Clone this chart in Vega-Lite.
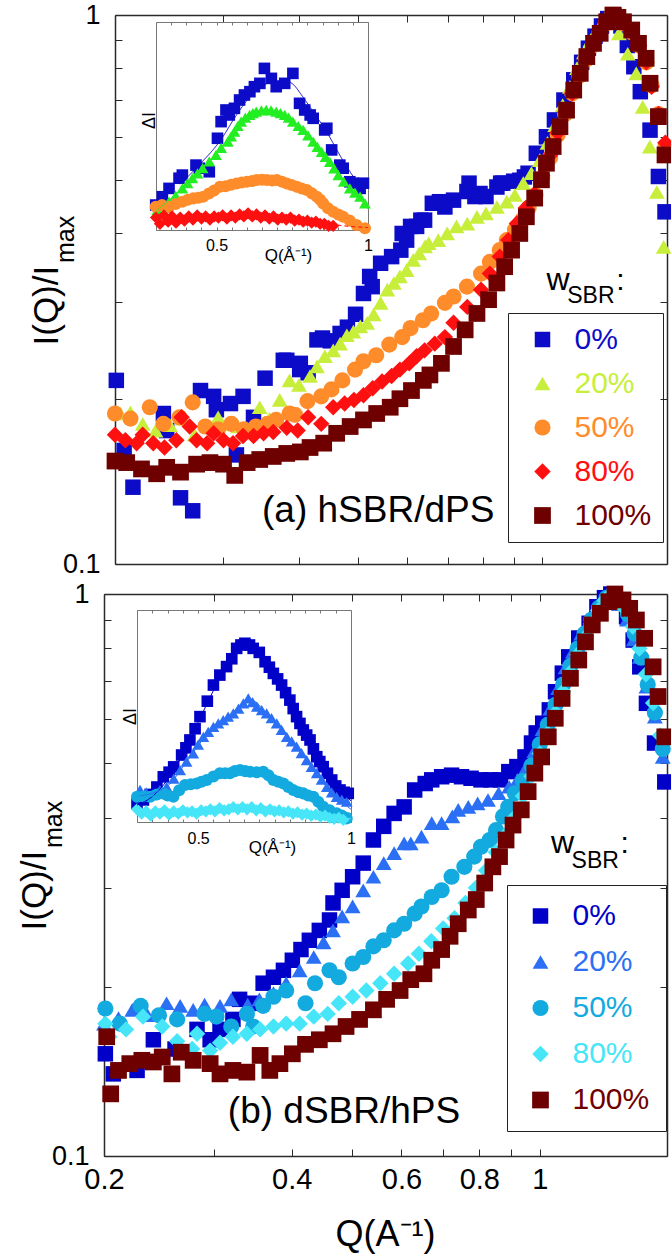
{
"$schema":"https://vega.github.io/schema/vega-lite/v6.json",
"width":671,"height":1258,"autosize":{"type":"none"},"padding":0,
"config":{"view":{"stroke":null},"font":"Liberation Sans",
 "axis":{"grid":false,"domainColor":"#2a2a2a","domainWidth":1.5,"tickColor":"#2a2a2a","tickWidth":1,"tickSize":-7,"labelFlush":false,"labelOverlap":false,"labelBound":false,"labelFont":"Liberation Sans","titleFont":"Liberation Sans","titleFontWeight":"normal","labelColor":"#000","titleColor":"#000"},
 "text":{"font":"Liberation Sans","color":"#000"}},
"datasets":{
"mainA":[
{"w":"0%","Q":0.201,"I":0.216},{"w":"0%","Q":0.207,"I":0.161},{"w":"0%","Q":0.214,"I":0.138},{"w":"0%","Q":0.240,"I":0.188},{"w":"0%","Q":0.243,"I":0.175},{"w":"0%","Q":0.256,"I":0.132},{"w":"0%","Q":0.268,"I":0.125},{"w":"0%","Q":0.276,"I":0.207},{"w":"0%","Q":0.290,"I":0.202},{"w":"0%","Q":0.293,"I":0.191},{"w":"0%","Q":0.309,"I":0.196},{"w":"0%","Q":0.316,"I":0.158},{"w":"0%","Q":0.324,"I":0.202},{"w":"0%","Q":0.337,"I":0.185},{"w":"0%","Q":0.352,"I":0.218},{"w":"0%","Q":0.377,"I":0.235},{"w":"0%","Q":0.382,"I":0.235},{"w":"0%","Q":0.401,"I":0.226},{"w":"0%","Q":0.402,"I":0.232},{"w":"0%","Q":0.414,"I":0.223},{"w":"0%","Q":0.428,"I":0.256},{"w":"0%","Q":0.437,"I":0.258},{"w":"0%","Q":0.450,"I":0.255},{"w":"0%","Q":0.467,"I":0.263},{"w":"0%","Q":0.480,"I":0.270},{"w":"0%","Q":0.495,"I":0.285},{"w":"0%","Q":0.510,"I":0.311},{"w":"0%","Q":0.522,"I":0.334},{"w":"0%","Q":0.527,"I":0.320},{"w":"0%","Q":0.544,"I":0.353},{"w":"0%","Q":0.567,"I":0.363},{"w":"0%","Q":0.587,"I":0.373},{"w":"0%","Q":0.590,"I":0.400},{"w":"0%","Q":0.600,"I":0.389},{"w":"0%","Q":0.609,"I":0.412},{"w":"0%","Q":0.623,"I":0.412},{"w":"0%","Q":0.633,"I":0.423},{"w":"0%","Q":0.642,"I":0.423},{"w":"0%","Q":0.661,"I":0.454},{"w":"0%","Q":0.679,"I":0.457},{"w":"0%","Q":0.693,"I":0.447},{"w":"0%","Q":0.716,"I":0.460},{"w":"0%","Q":0.753,"I":0.477},{"w":"0%","Q":0.759,"I":0.494},{"w":"0%","Q":0.776,"I":0.467},{"w":"0%","Q":0.791,"I":0.473},{"w":"0%","Q":0.809,"I":0.467},{"w":"0%","Q":0.843,"I":0.486},{"w":"0%","Q":0.855,"I":0.494},{"w":"0%","Q":0.862,"I":0.494},{"w":"0%","Q":0.898,"I":0.498},{"w":"0%","Q":0.919,"I":0.500},{"w":"0%","Q":0.935,"I":0.507},{"w":"0%","Q":0.948,"I":0.515},{"w":"0%","Q":0.978,"I":0.560},{"w":"0%","Q":1.016,"I":0.600},{"w":"0%","Q":1.047,"I":0.644},{"w":"0%","Q":1.085,"I":0.700},{"w":"0%","Q":1.126,"I":0.762},{"w":"0%","Q":1.160,"I":0.820},{"w":"0%","Q":1.190,"I":0.870},{"w":"0%","Q":1.220,"I":0.915},{"w":"0%","Q":1.250,"I":0.955},{"w":"0%","Q":1.280,"I":0.985},{"w":"0%","Q":1.310,"I":1.000},{"w":"0%","Q":1.345,"I":0.955},{"w":"0%","Q":1.378,"I":0.880},{"w":"0%","Q":1.412,"I":0.805},{"w":"0%","Q":1.447,"I":0.725},{"w":"0%","Q":1.501,"I":0.617},{"w":"0%","Q":1.549,"I":0.508},{"w":"0%","Q":1.588,"I":0.438},
{"w":"20%","Q":0.204,"I":0.188},{"w":"20%","Q":0.212,"I":0.189},{"w":"20%","Q":0.222,"I":0.180},{"w":"20%","Q":0.233,"I":0.175},{"w":"20%","Q":0.246,"I":0.179},{"w":"20%","Q":0.258,"I":0.184},{"w":"20%","Q":0.270,"I":0.172},{"w":"20%","Q":0.283,"I":0.178},{"w":"20%","Q":0.295,"I":0.185},{"w":"20%","Q":0.305,"I":0.180},{"w":"20%","Q":0.318,"I":0.178},{"w":"20%","Q":0.332,"I":0.175},{"w":"20%","Q":0.345,"I":0.193},{"w":"20%","Q":0.358,"I":0.184},{"w":"20%","Q":0.372,"I":0.199},{"w":"20%","Q":0.386,"I":0.216},{"w":"20%","Q":0.400,"I":0.212},{"w":"20%","Q":0.417,"I":0.220},{"w":"20%","Q":0.428,"I":0.229},{"w":"20%","Q":0.441,"I":0.239},{"w":"20%","Q":0.455,"I":0.245},{"w":"20%","Q":0.467,"I":0.252},{"w":"20%","Q":0.479,"I":0.261},{"w":"20%","Q":0.491,"I":0.265},{"w":"20%","Q":0.504,"I":0.271},{"w":"20%","Q":0.517,"I":0.275},{"w":"20%","Q":0.530,"I":0.285},{"w":"20%","Q":0.544,"I":0.299},{"w":"20%","Q":0.558,"I":0.316},{"w":"20%","Q":0.572,"I":0.325},{"w":"20%","Q":0.585,"I":0.334},{"w":"20%","Q":0.600,"I":0.343},{"w":"20%","Q":0.615,"I":0.358},{"w":"20%","Q":0.629,"I":0.368},{"w":"20%","Q":0.643,"I":0.379},{"w":"20%","Q":0.652,"I":0.384},{"w":"20%","Q":0.676,"I":0.389},{"w":"20%","Q":0.699,"I":0.400},{"w":"20%","Q":0.724,"I":0.412},{"w":"20%","Q":0.754,"I":0.417},{"w":"20%","Q":0.782,"I":0.429},{"w":"20%","Q":0.809,"I":0.435},{"w":"20%","Q":0.843,"I":0.447},{"w":"20%","Q":0.875,"I":0.457},{"w":"20%","Q":0.902,"I":0.470},{"w":"20%","Q":0.931,"I":0.494},{"w":"20%","Q":0.960,"I":0.515},{"w":"20%","Q":0.991,"I":0.544},{"w":"20%","Q":1.020,"I":0.585},{"w":"20%","Q":1.050,"I":0.630},{"w":"20%","Q":1.080,"I":0.685},{"w":"20%","Q":1.110,"I":0.740},{"w":"20%","Q":1.140,"I":0.800},{"w":"20%","Q":1.170,"I":0.855},{"w":"20%","Q":1.200,"I":0.900},{"w":"20%","Q":1.235,"I":0.940},{"w":"20%","Q":1.270,"I":0.965},{"w":"20%","Q":1.300,"I":0.975},{"w":"20%","Q":1.335,"I":0.926},{"w":"20%","Q":1.380,"I":0.850},{"w":"20%","Q":1.425,"I":0.783},{"w":"20%","Q":1.460,"I":0.680},{"w":"20%","Q":1.500,"I":0.576},{"w":"20%","Q":1.540,"I":0.476},{"w":"20%","Q":1.580,"I":0.378},
{"w":"50%","Q":0.200,"I":0.188},{"w":"50%","Q":0.212,"I":0.184},{"w":"50%","Q":0.228,"I":0.193},{"w":"50%","Q":0.240,"I":0.180},{"w":"50%","Q":0.255,"I":0.185},{"w":"50%","Q":0.268,"I":0.197},{"w":"50%","Q":0.281,"I":0.178},{"w":"50%","Q":0.295,"I":0.176},{"w":"50%","Q":0.310,"I":0.180},{"w":"50%","Q":0.325,"I":0.176},{"w":"50%","Q":0.340,"I":0.178},{"w":"50%","Q":0.355,"I":0.180},{"w":"50%","Q":0.367,"I":0.183},{"w":"50%","Q":0.386,"I":0.188},{"w":"50%","Q":0.394,"I":0.187},{"w":"50%","Q":0.413,"I":0.198},{"w":"50%","Q":0.435,"I":0.202},{"w":"50%","Q":0.452,"I":0.208},{"w":"50%","Q":0.471,"I":0.216},{"w":"50%","Q":0.494,"I":0.226},{"w":"50%","Q":0.510,"I":0.234},{"w":"50%","Q":0.535,"I":0.240},{"w":"50%","Q":0.562,"I":0.251},{"w":"50%","Q":0.590,"I":0.259},{"w":"50%","Q":0.609,"I":0.269},{"w":"50%","Q":0.638,"I":0.278},{"w":"50%","Q":0.658,"I":0.286},{"w":"50%","Q":0.693,"I":0.299},{"w":"50%","Q":0.716,"I":0.307},{"w":"50%","Q":0.753,"I":0.320},{"w":"50%","Q":0.794,"I":0.338},{"w":"50%","Q":0.821,"I":0.355},{"w":"50%","Q":0.852,"I":0.373},{"w":"50%","Q":0.875,"I":0.389},{"w":"50%","Q":0.902,"I":0.406},{"w":"50%","Q":0.927,"I":0.423},{"w":"50%","Q":0.950,"I":0.445},{"w":"50%","Q":0.975,"I":0.470},{"w":"50%","Q":1.000,"I":0.505},{"w":"50%","Q":1.030,"I":0.550},{"w":"50%","Q":1.060,"I":0.605},{"w":"50%","Q":1.090,"I":0.660},{"w":"50%","Q":1.120,"I":0.720},{"w":"50%","Q":1.150,"I":0.775},{"w":"50%","Q":1.180,"I":0.830},{"w":"50%","Q":1.210,"I":0.880},{"w":"50%","Q":1.240,"I":0.925},{"w":"50%","Q":1.270,"I":0.965},{"w":"50%","Q":1.300,"I":1.000},{"w":"50%","Q":1.330,"I":0.985},{"w":"50%","Q":1.360,"I":0.965},{"w":"50%","Q":1.400,"I":0.930},{"w":"50%","Q":1.440,"I":0.880},{"w":"50%","Q":1.480,"I":0.820},{"w":"50%","Q":1.510,"I":0.745},{"w":"50%","Q":1.550,"I":0.660},{"w":"50%","Q":1.590,"I":0.575},
{"w":"80%","Q":0.200,"I":0.172},{"w":"80%","Q":0.208,"I":0.168},{"w":"80%","Q":0.217,"I":0.166},{"w":"80%","Q":0.222,"I":0.172},{"w":"80%","Q":0.231,"I":0.166},{"w":"80%","Q":0.241,"I":0.163},{"w":"80%","Q":0.252,"I":0.168},{"w":"80%","Q":0.257,"I":0.185},{"w":"80%","Q":0.265,"I":0.178},{"w":"80%","Q":0.272,"I":0.168},{"w":"80%","Q":0.283,"I":0.166},{"w":"80%","Q":0.290,"I":0.173},{"w":"80%","Q":0.301,"I":0.168},{"w":"80%","Q":0.312,"I":0.166},{"w":"80%","Q":0.324,"I":0.171},{"w":"80%","Q":0.337,"I":0.171},{"w":"80%","Q":0.350,"I":0.173},{"w":"80%","Q":0.363,"I":0.174},{"w":"80%","Q":0.382,"I":0.177},{"w":"80%","Q":0.398,"I":0.175},{"w":"80%","Q":0.414,"I":0.185},{"w":"80%","Q":0.435,"I":0.180},{"w":"80%","Q":0.455,"I":0.193},{"w":"80%","Q":0.475,"I":0.196},{"w":"80%","Q":0.492,"I":0.199},{"w":"80%","Q":0.510,"I":0.203},{"w":"80%","Q":0.528,"I":0.209},{"w":"80%","Q":0.547,"I":0.215},{"w":"80%","Q":0.567,"I":0.220},{"w":"80%","Q":0.585,"I":0.226},{"w":"80%","Q":0.606,"I":0.232},{"w":"80%","Q":0.623,"I":0.239},{"w":"80%","Q":0.642,"I":0.245},{"w":"80%","Q":0.667,"I":0.252},{"w":"80%","Q":0.693,"I":0.259},{"w":"80%","Q":0.716,"I":0.275},{"w":"80%","Q":0.754,"I":0.294},{"w":"80%","Q":0.794,"I":0.316},{"w":"80%","Q":0.821,"I":0.338},{"w":"80%","Q":0.852,"I":0.363},{"w":"80%","Q":0.880,"I":0.389},{"w":"80%","Q":0.909,"I":0.417},{"w":"80%","Q":0.940,"I":0.445},{"w":"80%","Q":0.972,"I":0.472},{"w":"80%","Q":1.000,"I":0.510},{"w":"80%","Q":1.030,"I":0.555},{"w":"80%","Q":1.060,"I":0.610},{"w":"80%","Q":1.090,"I":0.665},{"w":"80%","Q":1.120,"I":0.720},{"w":"80%","Q":1.150,"I":0.780},{"w":"80%","Q":1.180,"I":0.835},{"w":"80%","Q":1.210,"I":0.885},{"w":"80%","Q":1.240,"I":0.930},{"w":"80%","Q":1.270,"I":0.970},{"w":"80%","Q":1.300,"I":1.000},{"w":"80%","Q":1.330,"I":0.985},{"w":"80%","Q":1.360,"I":0.965},{"w":"80%","Q":1.400,"I":0.930},{"w":"80%","Q":1.440,"I":0.880},{"w":"80%","Q":1.480,"I":0.820},{"w":"80%","Q":1.510,"I":0.740},{"w":"80%","Q":1.550,"I":0.660},{"w":"80%","Q":1.590,"I":0.585},
{"w":"100%","Q":0.200,"I":0.154},{"w":"100%","Q":0.209,"I":0.153},{"w":"100%","Q":0.221,"I":0.149},{"w":"100%","Q":0.234,"I":0.146},{"w":"100%","Q":0.243,"I":0.150},{"w":"100%","Q":0.256,"I":0.147},{"w":"100%","Q":0.272,"I":0.152},{"w":"100%","Q":0.286,"I":0.153},{"w":"100%","Q":0.301,"I":0.152},{"w":"100%","Q":0.314,"I":0.145},{"w":"100%","Q":0.329,"I":0.153},{"w":"100%","Q":0.345,"I":0.155},{"w":"100%","Q":0.363,"I":0.157},{"w":"100%","Q":0.382,"I":0.159},{"w":"100%","Q":0.402,"I":0.160},{"w":"100%","Q":0.417,"I":0.163},{"w":"100%","Q":0.439,"I":0.166},{"w":"100%","Q":0.461,"I":0.173},{"w":"100%","Q":0.485,"I":0.178},{"w":"100%","Q":0.510,"I":0.183},{"w":"100%","Q":0.536,"I":0.188},{"w":"100%","Q":0.564,"I":0.193},{"w":"100%","Q":0.585,"I":0.200},{"w":"100%","Q":0.611,"I":0.207},{"w":"100%","Q":0.639,"I":0.216},{"w":"100%","Q":0.655,"I":0.221},{"w":"100%","Q":0.684,"I":0.232},{"w":"100%","Q":0.716,"I":0.249},{"w":"100%","Q":0.748,"I":0.267},{"w":"100%","Q":0.782,"I":0.286},{"w":"100%","Q":0.817,"I":0.303},{"w":"100%","Q":0.843,"I":0.325},{"w":"100%","Q":0.868,"I":0.348},{"w":"100%","Q":0.891,"I":0.373},{"w":"100%","Q":0.919,"I":0.400},{"w":"100%","Q":0.942,"I":0.429},{"w":"100%","Q":0.972,"I":0.464},{"w":"100%","Q":0.997,"I":0.501},{"w":"100%","Q":1.016,"I":0.537},{"w":"100%","Q":1.042,"I":0.576},{"w":"100%","Q":1.069,"I":0.626},{"w":"100%","Q":1.096,"I":0.671},{"w":"100%","Q":1.126,"I":0.730},{"w":"100%","Q":1.154,"I":0.783},{"w":"100%","Q":1.183,"I":0.840},{"w":"100%","Q":1.213,"I":0.888},{"w":"100%","Q":1.244,"I":0.926},{"w":"100%","Q":1.275,"I":0.972},{"w":"100%","Q":1.305,"I":1.000},{"w":"100%","Q":1.330,"I":0.990},{"w":"100%","Q":1.358,"I":0.972},{"w":"100%","Q":1.401,"I":0.939},{"w":"100%","Q":1.437,"I":0.888},{"w":"100%","Q":1.479,"I":0.834},{"w":"100%","Q":1.501,"I":0.751},{"w":"100%","Q":1.549,"I":0.653},{"w":"100%","Q":1.588,"I":0.556}
],
"mainB":[
{"w":"0%","Q":0.201,"I":0.152},{"w":"0%","Q":0.207,"I":0.140},{"w":"0%","Q":0.226,"I":0.142},{"w":"0%","Q":0.240,"I":0.161},{"w":"0%","Q":0.260,"I":0.155},{"w":"0%","Q":0.282,"I":0.168},{"w":"0%","Q":0.296,"I":0.161},{"w":"0%","Q":0.307,"I":0.168},{"w":"0%","Q":0.322,"I":0.175},{"w":"0%","Q":0.330,"I":0.190},{"w":"0%","Q":0.347,"I":0.187},{"w":"0%","Q":0.360,"I":0.203},{"w":"0%","Q":0.374,"I":0.208},{"w":"0%","Q":0.388,"I":0.214},{"w":"0%","Q":0.401,"I":0.223},{"w":"0%","Q":0.414,"I":0.233},{"w":"0%","Q":0.427,"I":0.242},{"w":"0%","Q":0.443,"I":0.252},{"w":"0%","Q":0.460,"I":0.263},{"w":"0%","Q":0.466,"I":0.282},{"w":"0%","Q":0.482,"I":0.297},{"w":"0%","Q":0.501,"I":0.314},{"w":"0%","Q":0.521,"I":0.332},{"w":"0%","Q":0.541,"I":0.365},{"w":"0%","Q":0.562,"I":0.386},{"w":"0%","Q":0.584,"I":0.407},{"w":"0%","Q":0.606,"I":0.418},{"w":"0%","Q":0.630,"I":0.448},{"w":"0%","Q":0.655,"I":0.460},{"w":"0%","Q":0.671,"I":0.467},{"w":"0%","Q":0.696,"I":0.473},{"w":"0%","Q":0.722,"I":0.476},{"w":"0%","Q":0.749,"I":0.473},{"w":"0%","Q":0.776,"I":0.470},{"w":"0%","Q":0.805,"I":0.467},{"w":"0%","Q":0.835,"I":0.467},{"w":"0%","Q":0.865,"I":0.467},{"w":"0%","Q":0.892,"I":0.483},{"w":"0%","Q":0.919,"I":0.493},{"w":"0%","Q":0.947,"I":0.513},{"w":"0%","Q":0.970,"I":0.543},{"w":"0%","Q":0.987,"I":0.566},{"w":"0%","Q":1.011,"I":0.589},{"w":"0%","Q":1.036,"I":0.622},{"w":"0%","Q":1.060,"I":0.670},{"w":"0%","Q":1.087,"I":0.723},{"w":"0%","Q":1.113,"I":0.773},{"w":"0%","Q":1.155,"I":0.835},{"w":"0%","Q":1.200,"I":0.887},{"w":"0%","Q":1.235,"I":0.949},{"w":"0%","Q":1.270,"I":0.985},{"w":"0%","Q":1.300,"I":1.000},{"w":"0%","Q":1.340,"I":0.965},{"w":"0%","Q":1.378,"I":0.911},{"w":"0%","Q":1.412,"I":0.828},{"w":"0%","Q":1.447,"I":0.742},{"w":"0%","Q":1.483,"I":0.639},{"w":"0%","Q":1.528,"I":0.543},{"w":"0%","Q":1.587,"I":0.463},
{"w":"20%","Q":0.200,"I":0.172},{"w":"20%","Q":0.211,"I":0.176},{"w":"20%","Q":0.222,"I":0.182},{"w":"20%","Q":0.235,"I":0.178},{"w":"20%","Q":0.252,"I":0.187},{"w":"20%","Q":0.265,"I":0.185},{"w":"20%","Q":0.278,"I":0.182},{"w":"20%","Q":0.290,"I":0.186},{"w":"20%","Q":0.307,"I":0.185},{"w":"20%","Q":0.320,"I":0.190},{"w":"20%","Q":0.340,"I":0.186},{"w":"20%","Q":0.355,"I":0.190},{"w":"20%","Q":0.374,"I":0.195},{"w":"20%","Q":0.392,"I":0.203},{"w":"20%","Q":0.412,"I":0.214},{"w":"20%","Q":0.434,"I":0.226},{"w":"20%","Q":0.450,"I":0.240},{"w":"20%","Q":0.466,"I":0.252},{"w":"20%","Q":0.482,"I":0.267},{"w":"20%","Q":0.501,"I":0.278},{"w":"20%","Q":0.521,"I":0.297},{"w":"20%","Q":0.541,"I":0.314},{"w":"20%","Q":0.562,"I":0.332},{"w":"20%","Q":0.584,"I":0.346},{"w":"20%","Q":0.606,"I":0.360},{"w":"20%","Q":0.621,"I":0.360},{"w":"20%","Q":0.646,"I":0.370},{"w":"20%","Q":0.671,"I":0.391},{"w":"20%","Q":0.696,"I":0.391},{"w":"20%","Q":0.724,"I":0.402},{"w":"20%","Q":0.740,"I":0.413},{"w":"20%","Q":0.768,"I":0.418},{"w":"20%","Q":0.795,"I":0.424},{"w":"20%","Q":0.826,"I":0.430},{"w":"20%","Q":0.859,"I":0.442},{"w":"20%","Q":0.893,"I":0.454},{"w":"20%","Q":0.921,"I":0.467},{"w":"20%","Q":0.950,"I":0.490},{"w":"20%","Q":0.980,"I":0.525},{"w":"20%","Q":1.010,"I":0.575},{"w":"20%","Q":1.040,"I":0.625},{"w":"20%","Q":1.070,"I":0.680},{"w":"20%","Q":1.100,"I":0.740},{"w":"20%","Q":1.130,"I":0.790},{"w":"20%","Q":1.165,"I":0.850},{"w":"20%","Q":1.200,"I":0.895},{"w":"20%","Q":1.235,"I":0.945},{"w":"20%","Q":1.270,"I":0.980},{"w":"20%","Q":1.300,"I":0.995},{"w":"20%","Q":1.340,"I":0.960},{"w":"20%","Q":1.380,"I":0.900},{"w":"20%","Q":1.415,"I":0.830},{"w":"20%","Q":1.447,"I":0.773},{"w":"20%","Q":1.483,"I":0.684},{"w":"20%","Q":1.530,"I":0.605},{"w":"20%","Q":1.575,"I":0.513},
{"w":"50%","Q":0.201,"I":0.183},{"w":"50%","Q":0.212,"I":0.172},{"w":"50%","Q":0.229,"I":0.185},{"w":"50%","Q":0.245,"I":0.178},{"w":"50%","Q":0.262,"I":0.175},{"w":"50%","Q":0.290,"I":0.179},{"w":"50%","Q":0.303,"I":0.177},{"w":"50%","Q":0.320,"I":0.170},{"w":"50%","Q":0.339,"I":0.179},{"w":"50%","Q":0.347,"I":0.170},{"w":"50%","Q":0.360,"I":0.185},{"w":"50%","Q":0.374,"I":0.192},{"w":"50%","Q":0.392,"I":0.197},{"w":"50%","Q":0.421,"I":0.187},{"w":"50%","Q":0.436,"I":0.203},{"w":"50%","Q":0.460,"I":0.214},{"w":"50%","Q":0.476,"I":0.208},{"w":"50%","Q":0.501,"I":0.220},{"w":"50%","Q":0.521,"I":0.226},{"w":"50%","Q":0.541,"I":0.236},{"w":"50%","Q":0.562,"I":0.242},{"w":"50%","Q":0.584,"I":0.252},{"w":"50%","Q":0.606,"I":0.259},{"w":"50%","Q":0.630,"I":0.270},{"w":"50%","Q":0.646,"I":0.278},{"w":"50%","Q":0.671,"I":0.289},{"w":"50%","Q":0.696,"I":0.297},{"w":"50%","Q":0.722,"I":0.314},{"w":"50%","Q":0.757,"I":0.327},{"w":"50%","Q":0.785,"I":0.341},{"w":"50%","Q":0.805,"I":0.355},{"w":"50%","Q":0.831,"I":0.365},{"w":"50%","Q":0.851,"I":0.380},{"w":"50%","Q":0.873,"I":0.402},{"w":"50%","Q":0.890,"I":0.418},{"w":"50%","Q":0.912,"I":0.442},{"w":"50%","Q":0.940,"I":0.465},{"w":"50%","Q":0.970,"I":0.495},{"w":"50%","Q":1.000,"I":0.540},{"w":"50%","Q":1.030,"I":0.585},{"w":"50%","Q":1.060,"I":0.635},{"w":"50%","Q":1.090,"I":0.690},{"w":"50%","Q":1.120,"I":0.745},{"w":"50%","Q":1.150,"I":0.800},{"w":"50%","Q":1.180,"I":0.850},{"w":"50%","Q":1.210,"I":0.900},{"w":"50%","Q":1.245,"I":0.945},{"w":"50%","Q":1.280,"I":0.985},{"w":"50%","Q":1.310,"I":1.000},{"w":"50%","Q":1.345,"I":0.975},{"w":"50%","Q":1.385,"I":0.920},{"w":"50%","Q":1.420,"I":0.850},{"w":"50%","Q":1.455,"I":0.770},{"w":"50%","Q":1.490,"I":0.690},{"w":"50%","Q":1.530,"I":0.615},{"w":"50%","Q":1.575,"I":0.530},
{"w":"80%","Q":0.201,"I":0.172},{"w":"80%","Q":0.204,"I":0.163},{"w":"80%","Q":0.217,"I":0.168},{"w":"80%","Q":0.231,"I":0.177},{"w":"80%","Q":0.248,"I":0.170},{"w":"80%","Q":0.262,"I":0.160},{"w":"80%","Q":0.277,"I":0.155},{"w":"80%","Q":0.282,"I":0.165},{"w":"80%","Q":0.296,"I":0.154},{"w":"80%","Q":0.307,"I":0.159},{"w":"80%","Q":0.322,"I":0.163},{"w":"80%","Q":0.339,"I":0.165},{"w":"80%","Q":0.356,"I":0.168},{"w":"80%","Q":0.374,"I":0.170},{"w":"80%","Q":0.392,"I":0.172},{"w":"80%","Q":0.412,"I":0.172},{"w":"80%","Q":0.434,"I":0.177},{"w":"80%","Q":0.457,"I":0.179},{"w":"80%","Q":0.476,"I":0.187},{"w":"80%","Q":0.501,"I":0.192},{"w":"80%","Q":0.527,"I":0.197},{"w":"80%","Q":0.555,"I":0.203},{"w":"80%","Q":0.584,"I":0.211},{"w":"80%","Q":0.615,"I":0.220},{"w":"80%","Q":0.640,"I":0.229},{"w":"80%","Q":0.670,"I":0.241},{"w":"80%","Q":0.700,"I":0.254},{"w":"80%","Q":0.730,"I":0.265},{"w":"80%","Q":0.760,"I":0.282},{"w":"80%","Q":0.790,"I":0.300},{"w":"80%","Q":0.820,"I":0.322},{"w":"80%","Q":0.850,"I":0.347},{"w":"80%","Q":0.880,"I":0.372},{"w":"80%","Q":0.910,"I":0.400},{"w":"80%","Q":0.940,"I":0.437},{"w":"80%","Q":0.970,"I":0.474},{"w":"80%","Q":1.000,"I":0.520},{"w":"80%","Q":1.030,"I":0.565},{"w":"80%","Q":1.060,"I":0.615},{"w":"80%","Q":1.090,"I":0.670},{"w":"80%","Q":1.120,"I":0.725},{"w":"80%","Q":1.150,"I":0.780},{"w":"80%","Q":1.180,"I":0.835},{"w":"80%","Q":1.210,"I":0.885},{"w":"80%","Q":1.240,"I":0.935},{"w":"80%","Q":1.270,"I":0.975},{"w":"80%","Q":1.300,"I":1.000},{"w":"80%","Q":1.335,"I":0.980},{"w":"80%","Q":1.370,"I":0.940},{"w":"80%","Q":1.410,"I":0.875},{"w":"80%","Q":1.445,"I":0.800},{"w":"80%","Q":1.480,"I":0.720},{"w":"80%","Q":1.520,"I":0.640},{"w":"80%","Q":1.560,"I":0.560},
{"w":"100%","Q":0.202,"I":0.163},{"w":"100%","Q":0.205,"I":0.129},{"w":"100%","Q":0.211,"I":0.142},{"w":"100%","Q":0.220,"I":0.146},{"w":"100%","Q":0.230,"I":0.148},{"w":"100%","Q":0.240,"I":0.147},{"w":"100%","Q":0.248,"I":0.150},{"w":"100%","Q":0.257,"I":0.140},{"w":"100%","Q":0.266,"I":0.153},{"w":"100%","Q":0.278,"I":0.148},{"w":"100%","Q":0.296,"I":0.146},{"w":"100%","Q":0.307,"I":0.140},{"w":"100%","Q":0.322,"I":0.142},{"w":"100%","Q":0.339,"I":0.141},{"w":"100%","Q":0.356,"I":0.151},{"w":"100%","Q":0.369,"I":0.142},{"w":"100%","Q":0.383,"I":0.146},{"w":"100%","Q":0.401,"I":0.152},{"w":"100%","Q":0.421,"I":0.158},{"w":"100%","Q":0.443,"I":0.161},{"w":"100%","Q":0.466,"I":0.165},{"w":"100%","Q":0.489,"I":0.170},{"w":"100%","Q":0.514,"I":0.175},{"w":"100%","Q":0.541,"I":0.182},{"w":"100%","Q":0.568,"I":0.190},{"w":"100%","Q":0.597,"I":0.197},{"w":"100%","Q":0.621,"I":0.206},{"w":"100%","Q":0.652,"I":0.211},{"w":"100%","Q":0.671,"I":0.223},{"w":"100%","Q":0.696,"I":0.233},{"w":"100%","Q":0.718,"I":0.246},{"w":"100%","Q":0.740,"I":0.259},{"w":"100%","Q":0.768,"I":0.274},{"w":"100%","Q":0.791,"I":0.286},{"w":"100%","Q":0.816,"I":0.306},{"w":"100%","Q":0.841,"I":0.327},{"w":"100%","Q":0.862,"I":0.341},{"w":"100%","Q":0.883,"I":0.365},{"w":"100%","Q":0.906,"I":0.388},{"w":"100%","Q":0.934,"I":0.413},{"w":"100%","Q":0.958,"I":0.445},{"w":"100%","Q":0.982,"I":0.480},{"w":"100%","Q":1.007,"I":0.513},{"w":"100%","Q":1.032,"I":0.557},{"w":"100%","Q":1.059,"I":0.601},{"w":"100%","Q":1.086,"I":0.652},{"w":"100%","Q":1.120,"I":0.708},{"w":"100%","Q":1.155,"I":0.763},{"w":"100%","Q":1.184,"I":0.822},{"w":"100%","Q":1.214,"I":0.881},{"w":"100%","Q":1.251,"I":0.924},{"w":"100%","Q":1.291,"I":0.969},{"w":"100%","Q":1.320,"I":1.000},{"w":"100%","Q":1.360,"I":0.976},{"w":"100%","Q":1.394,"I":0.943},{"w":"100%","Q":1.429,"I":0.899},{"w":"100%","Q":1.473,"I":0.834},{"w":"100%","Q":1.520,"I":0.742},{"w":"100%","Q":1.548,"I":0.657},{"w":"100%","Q":1.587,"I":0.557}
],
"insA":[
{"w":"0%","Q":0.299,"d":0.120},{"w":"0%","Q":0.321,"d":0.160},{"w":"0%","Q":0.343,"d":0.200},{"w":"0%","Q":0.376,"d":0.249},{"w":"0%","Q":0.387,"d":0.264},{"w":"0%","Q":0.432,"d":0.312},{"w":"0%","Q":0.443,"d":0.297},{"w":"0%","Q":0.476,"d":0.280},{"w":"0%","Q":0.503,"d":0.441},{"w":"0%","Q":0.515,"d":0.521},{"w":"0%","Q":0.531,"d":0.577},{"w":"0%","Q":0.542,"d":0.553},{"w":"0%","Q":0.559,"d":0.585},{"w":"0%","Q":0.576,"d":0.625},{"w":"0%","Q":0.592,"d":0.649},{"w":"0%","Q":0.610,"d":0.665},{"w":"0%","Q":0.625,"d":0.689},{"w":"0%","Q":0.643,"d":0.705},{"w":"0%","Q":0.658,"d":0.777},{"w":"0%","Q":0.681,"d":0.729},{"w":"0%","Q":0.697,"d":0.689},{"w":"0%","Q":0.725,"d":0.705},{"w":"0%","Q":0.752,"d":0.753},{"w":"0%","Q":0.774,"d":0.609},{"w":"0%","Q":0.791,"d":0.577},{"w":"0%","Q":0.809,"d":0.553},{"w":"0%","Q":0.819,"d":0.537},{"w":"0%","Q":0.857,"d":0.481},{"w":"0%","Q":0.864,"d":0.489},{"w":"0%","Q":0.880,"d":0.385},{"w":"0%","Q":0.907,"d":0.312},{"w":"0%","Q":0.918,"d":0.297},{"w":"0%","Q":0.940,"d":0.232},{"w":"0%","Q":0.951,"d":0.225},{"w":"0%","Q":0.974,"d":0.200},{"w":"0%","Q":0.985,"d":0.225},
{"w":"20%","Q":0.304,"d":0.096},{"w":"20%","Q":0.323,"d":0.115},{"w":"20%","Q":0.343,"d":0.136},{"w":"20%","Q":0.365,"d":0.165},{"w":"20%","Q":0.387,"d":0.200},{"w":"20%","Q":0.404,"d":0.225},{"w":"20%","Q":0.420,"d":0.249},{"w":"20%","Q":0.437,"d":0.272},{"w":"20%","Q":0.454,"d":0.297},{"w":"20%","Q":0.476,"d":0.330},{"w":"20%","Q":0.498,"d":0.361},{"w":"20%","Q":0.515,"d":0.395},{"w":"20%","Q":0.537,"d":0.425},{"w":"20%","Q":0.548,"d":0.450},{"w":"20%","Q":0.559,"d":0.473},{"w":"20%","Q":0.570,"d":0.500},{"w":"20%","Q":0.581,"d":0.521},{"w":"20%","Q":0.595,"d":0.540},{"w":"20%","Q":0.609,"d":0.553},{"w":"20%","Q":0.620,"d":0.562},{"w":"20%","Q":0.631,"d":0.569},{"w":"20%","Q":0.648,"d":0.575},{"w":"20%","Q":0.664,"d":0.577},{"w":"20%","Q":0.680,"d":0.575},{"w":"20%","Q":0.697,"d":0.569},{"w":"20%","Q":0.711,"d":0.562},{"w":"20%","Q":0.725,"d":0.553},{"w":"20%","Q":0.738,"d":0.540},{"w":"20%","Q":0.752,"d":0.521},{"w":"20%","Q":0.770,"d":0.500},{"w":"20%","Q":0.786,"d":0.481},{"w":"20%","Q":0.802,"d":0.455},{"w":"20%","Q":0.819,"d":0.425},{"w":"20%","Q":0.833,"d":0.400},{"w":"20%","Q":0.847,"d":0.376},{"w":"20%","Q":0.860,"d":0.352},{"w":"20%","Q":0.874,"d":0.328},{"w":"20%","Q":0.888,"d":0.296},{"w":"20%","Q":0.902,"d":0.264},{"w":"20%","Q":0.920,"d":0.232},{"w":"20%","Q":0.940,"d":0.200},{"w":"20%","Q":0.957,"d":0.180},{"w":"20%","Q":0.974,"d":0.160},{"w":"20%","Q":0.990,"d":0.128},
{"w":"50%","Q":0.299,"d":0.112},{"w":"50%","Q":0.320,"d":0.120},{"w":"50%","Q":0.343,"d":0.110},{"w":"50%","Q":0.365,"d":0.125},{"w":"50%","Q":0.387,"d":0.136},{"w":"50%","Q":0.405,"d":0.145},{"w":"50%","Q":0.423,"d":0.152},{"w":"50%","Q":0.440,"d":0.155},{"w":"50%","Q":0.456,"d":0.160},{"w":"50%","Q":0.475,"d":0.175},{"w":"50%","Q":0.492,"d":0.190},{"w":"50%","Q":0.511,"d":0.208},{"w":"50%","Q":0.530,"d":0.210},{"w":"50%","Q":0.548,"d":0.218},{"w":"50%","Q":0.566,"d":0.224},{"w":"50%","Q":0.583,"d":0.228},{"w":"50%","Q":0.600,"d":0.232},{"w":"50%","Q":0.617,"d":0.236},{"w":"50%","Q":0.633,"d":0.240},{"w":"50%","Q":0.650,"d":0.242},{"w":"50%","Q":0.666,"d":0.240},{"w":"50%","Q":0.683,"d":0.238},{"w":"50%","Q":0.699,"d":0.240},{"w":"50%","Q":0.716,"d":0.232},{"w":"50%","Q":0.732,"d":0.224},{"w":"50%","Q":0.748,"d":0.216},{"w":"50%","Q":0.765,"d":0.208},{"w":"50%","Q":0.781,"d":0.200},{"w":"50%","Q":0.798,"d":0.192},{"w":"50%","Q":0.815,"d":0.176},{"w":"50%","Q":0.831,"d":0.160},{"w":"50%","Q":0.842,"d":0.145},{"w":"50%","Q":0.852,"d":0.128},{"w":"50%","Q":0.868,"d":0.105},{"w":"50%","Q":0.885,"d":0.088},{"w":"50%","Q":0.902,"d":0.075},{"w":"50%","Q":0.918,"d":0.064},{"w":"50%","Q":0.940,"d":0.045},{"w":"50%","Q":0.962,"d":0.024},{"w":"50%","Q":0.990,"d":0.008},
{"w":"80%","Q":0.300,"d":0.060},{"w":"80%","Q":0.313,"d":0.030},{"w":"80%","Q":0.326,"d":0.070},{"w":"80%","Q":0.340,"d":0.040},{"w":"80%","Q":0.353,"d":0.065},{"w":"80%","Q":0.366,"d":0.035},{"w":"80%","Q":0.380,"d":0.060},{"w":"80%","Q":0.394,"d":0.045},{"w":"80%","Q":0.408,"d":0.065},{"w":"80%","Q":0.422,"d":0.050},{"w":"80%","Q":0.436,"d":0.070},{"w":"80%","Q":0.450,"d":0.055},{"w":"80%","Q":0.464,"d":0.065},{"w":"80%","Q":0.478,"d":0.050},{"w":"80%","Q":0.492,"d":0.065},{"w":"80%","Q":0.506,"d":0.060},{"w":"80%","Q":0.520,"d":0.070},{"w":"80%","Q":0.534,"d":0.055},{"w":"80%","Q":0.548,"d":0.070},{"w":"80%","Q":0.562,"d":0.060},{"w":"80%","Q":0.576,"d":0.075},{"w":"80%","Q":0.590,"d":0.065},{"w":"80%","Q":0.604,"d":0.080},{"w":"80%","Q":0.618,"d":0.065},{"w":"80%","Q":0.632,"d":0.075},{"w":"80%","Q":0.646,"d":0.060},{"w":"80%","Q":0.660,"d":0.070},{"w":"80%","Q":0.674,"d":0.055},{"w":"80%","Q":0.688,"d":0.065},{"w":"80%","Q":0.702,"d":0.050},{"w":"80%","Q":0.716,"d":0.060},{"w":"80%","Q":0.730,"d":0.050},{"w":"80%","Q":0.744,"d":0.060},{"w":"80%","Q":0.758,"d":0.045},{"w":"80%","Q":0.772,"d":0.050},{"w":"80%","Q":0.786,"d":0.040},{"w":"80%","Q":0.800,"d":0.045},{"w":"80%","Q":0.814,"d":0.035},{"w":"80%","Q":0.828,"d":0.040},{"w":"80%","Q":0.842,"d":0.030},{"w":"80%","Q":0.856,"d":0.030},{"w":"80%","Q":0.870,"d":0.020},{"w":"80%","Q":0.885,"d":0.020}
],
"fitA":[
{"w":"0%","Q":0.380,"d":0.220},{"w":"0%","Q":0.434,"d":0.300},{"w":"0%","Q":0.517,"d":0.440},{"w":"0%","Q":0.560,"d":0.540},{"w":"0%","Q":0.610,"d":0.640},{"w":"0%","Q":0.660,"d":0.700},{"w":"0%","Q":0.720,"d":0.720},{"w":"0%","Q":0.753,"d":0.700},{"w":"0%","Q":0.780,"d":0.650},{"w":"0%","Q":0.809,"d":0.590},{"w":"0%","Q":0.864,"d":0.470},{"w":"0%","Q":0.919,"d":0.330},{"w":"0%","Q":0.974,"d":0.210},{"w":"0%","Q":0.990,"d":0.180},
{"w":"20%","Q":0.300,"d":0.090},{"w":"20%","Q":0.400,"d":0.220},{"w":"20%","Q":0.500,"d":0.370},{"w":"20%","Q":0.560,"d":0.480},{"w":"20%","Q":0.620,"d":0.560},{"w":"20%","Q":0.660,"d":0.575},{"w":"20%","Q":0.700,"d":0.570},{"w":"20%","Q":0.750,"d":0.525},{"w":"20%","Q":0.800,"d":0.450},{"w":"20%","Q":0.850,"d":0.370},{"w":"20%","Q":0.900,"d":0.270},{"w":"20%","Q":0.950,"d":0.190},{"w":"20%","Q":1.000,"d":0.100},
{"w":"50%","Q":0.300,"d":0.110},{"w":"50%","Q":0.400,"d":0.140},{"w":"50%","Q":0.500,"d":0.200},{"w":"50%","Q":0.600,"d":0.230},{"w":"50%","Q":0.700,"d":0.235},{"w":"50%","Q":0.800,"d":0.190},{"w":"50%","Q":0.850,"d":0.135},{"w":"50%","Q":0.900,"d":0.075},{"w":"50%","Q":0.950,"d":0.035},{"w":"50%","Q":1.000,"d":0.010},
{"w":"80%","Q":0.300,"d":0.050},{"w":"80%","Q":0.450,"d":0.060},{"w":"80%","Q":0.600,"d":0.070},{"w":"80%","Q":0.750,"d":0.055},{"w":"80%","Q":0.850,"d":0.035},{"w":"80%","Q":0.920,"d":0.020},{"w":"80%","Q":1.000,"d":0.012}
],
"insB":[
{"w":"0%","Q":0.300,"d":0.085},{"w":"0%","Q":0.321,"d":0.104},{"w":"0%","Q":0.343,"d":0.130},{"w":"0%","Q":0.365,"d":0.165},{"w":"0%","Q":0.386,"d":0.213},{"w":"0%","Q":0.405,"d":0.235},{"w":"0%","Q":0.420,"d":0.260},{"w":"0%","Q":0.446,"d":0.316},{"w":"0%","Q":0.460,"d":0.350},{"w":"0%","Q":0.473,"d":0.387},{"w":"0%","Q":0.490,"d":0.440},{"w":"0%","Q":0.506,"d":0.497},{"w":"0%","Q":0.530,"d":0.570},{"w":"0%","Q":0.550,"d":0.646},{"w":"0%","Q":0.571,"d":0.693},{"w":"0%","Q":0.593,"d":0.733},{"w":"0%","Q":0.610,"d":0.770},{"w":"0%","Q":0.626,"d":0.819},{"w":"0%","Q":0.640,"d":0.835},{"w":"0%","Q":0.653,"d":0.843},{"w":"0%","Q":0.668,"d":0.835},{"w":"0%","Q":0.680,"d":0.819},{"w":"0%","Q":0.700,"d":0.800},{"w":"0%","Q":0.719,"d":0.756},{"w":"0%","Q":0.733,"d":0.730},{"w":"0%","Q":0.746,"d":0.701},{"w":"0%","Q":0.760,"d":0.675},{"w":"0%","Q":0.773,"d":0.646},{"w":"0%","Q":0.786,"d":0.610},{"w":"0%","Q":0.800,"d":0.575},{"w":"0%","Q":0.811,"d":0.535},{"w":"0%","Q":0.822,"d":0.497},{"w":"0%","Q":0.833,"d":0.465},{"w":"0%","Q":0.844,"d":0.434},{"w":"0%","Q":0.855,"d":0.410},{"w":"0%","Q":0.866,"d":0.387},{"w":"0%","Q":0.877,"d":0.345},{"w":"0%","Q":0.888,"d":0.308},{"w":"0%","Q":0.898,"d":0.285},{"w":"0%","Q":0.909,"d":0.261},{"w":"0%","Q":0.923,"d":0.230},{"w":"0%","Q":0.937,"d":0.198},{"w":"0%","Q":0.950,"d":0.170},{"w":"0%","Q":0.964,"d":0.151},{"w":"0%","Q":0.978,"d":0.140},{"w":"0%","Q":0.991,"d":0.135},
{"w":"20%","Q":0.310,"d":0.151},{"w":"20%","Q":0.330,"d":0.140},{"w":"20%","Q":0.350,"d":0.130},{"w":"20%","Q":0.375,"d":0.150},{"w":"20%","Q":0.397,"d":0.166},{"w":"20%","Q":0.420,"d":0.205},{"w":"20%","Q":0.441,"d":0.245},{"w":"20%","Q":0.462,"d":0.285},{"w":"20%","Q":0.484,"d":0.324},{"w":"20%","Q":0.500,"d":0.365},{"w":"20%","Q":0.517,"d":0.402},{"w":"20%","Q":0.533,"d":0.425},{"w":"20%","Q":0.550,"d":0.449},{"w":"20%","Q":0.566,"d":0.465},{"w":"20%","Q":0.582,"d":0.481},{"w":"20%","Q":0.598,"d":0.497},{"w":"20%","Q":0.615,"d":0.512},{"w":"20%","Q":0.632,"d":0.535},{"w":"20%","Q":0.648,"d":0.559},{"w":"20%","Q":0.664,"d":0.583},{"w":"20%","Q":0.678,"d":0.565},{"w":"20%","Q":0.692,"d":0.544},{"w":"20%","Q":0.708,"d":0.528},{"w":"20%","Q":0.724,"d":0.512},{"w":"20%","Q":0.740,"d":0.490},{"w":"20%","Q":0.757,"d":0.465},{"w":"20%","Q":0.773,"d":0.435},{"w":"20%","Q":0.790,"d":0.402},{"w":"20%","Q":0.806,"d":0.380},{"w":"20%","Q":0.822,"d":0.355},{"w":"20%","Q":0.838,"d":0.325},{"w":"20%","Q":0.855,"d":0.292},{"w":"20%","Q":0.871,"d":0.260},{"w":"20%","Q":0.888,"d":0.230},{"w":"20%","Q":0.904,"d":0.200},{"w":"20%","Q":0.921,"d":0.166},{"w":"20%","Q":0.937,"d":0.140},{"w":"20%","Q":0.953,"d":0.119},{"w":"20%","Q":0.970,"d":0.105},{"w":"20%","Q":0.986,"d":0.096},
{"w":"50%","Q":0.300,"d":0.119},{"w":"50%","Q":0.321,"d":0.120},{"w":"50%","Q":0.343,"d":0.119},{"w":"50%","Q":0.365,"d":0.130},{"w":"50%","Q":0.386,"d":0.135},{"w":"50%","Q":0.400,"d":0.125},{"w":"50%","Q":0.419,"d":0.119},{"w":"50%","Q":0.438,"d":0.150},{"w":"50%","Q":0.457,"d":0.175},{"w":"50%","Q":0.476,"d":0.178},{"w":"50%","Q":0.495,"d":0.182},{"w":"50%","Q":0.511,"d":0.190},{"w":"50%","Q":0.528,"d":0.198},{"w":"50%","Q":0.550,"d":0.215},{"w":"50%","Q":0.571,"d":0.230},{"w":"50%","Q":0.588,"d":0.230},{"w":"50%","Q":0.604,"d":0.230},{"w":"50%","Q":0.620,"d":0.240},{"w":"50%","Q":0.637,"d":0.245},{"w":"50%","Q":0.654,"d":0.240},{"w":"50%","Q":0.670,"d":0.237},{"w":"50%","Q":0.692,"d":0.235},{"w":"50%","Q":0.713,"d":0.237},{"w":"50%","Q":0.730,"d":0.220},{"w":"50%","Q":0.746,"d":0.198},{"w":"50%","Q":0.762,"d":0.190},{"w":"50%","Q":0.779,"d":0.182},{"w":"50%","Q":0.795,"d":0.165},{"w":"50%","Q":0.811,"d":0.151},{"w":"50%","Q":0.828,"d":0.140},{"w":"50%","Q":0.844,"d":0.135},{"w":"50%","Q":0.860,"d":0.125},{"w":"50%","Q":0.877,"d":0.119},{"w":"50%","Q":0.893,"d":0.095},{"w":"50%","Q":0.909,"d":0.072},{"w":"50%","Q":0.930,"d":0.055},{"w":"50%","Q":0.953,"d":0.041},{"w":"50%","Q":0.970,"d":0.030},{"w":"50%","Q":0.986,"d":0.017},
{"w":"80%","Q":0.300,"d":0.060},{"w":"80%","Q":0.315,"d":0.040},{"w":"80%","Q":0.330,"d":0.050},{"w":"80%","Q":0.345,"d":0.030},{"w":"80%","Q":0.360,"d":0.050},{"w":"80%","Q":0.375,"d":0.040},{"w":"80%","Q":0.390,"d":0.055},{"w":"80%","Q":0.405,"d":0.035},{"w":"80%","Q":0.420,"d":0.050},{"w":"80%","Q":0.435,"d":0.040},{"w":"80%","Q":0.450,"d":0.055},{"w":"80%","Q":0.465,"d":0.045},{"w":"80%","Q":0.480,"d":0.050},{"w":"80%","Q":0.495,"d":0.040},{"w":"80%","Q":0.510,"d":0.055},{"w":"80%","Q":0.525,"d":0.050},{"w":"80%","Q":0.540,"d":0.060},{"w":"80%","Q":0.555,"d":0.050},{"w":"80%","Q":0.570,"d":0.065},{"w":"80%","Q":0.585,"d":0.055},{"w":"80%","Q":0.600,"d":0.060},{"w":"80%","Q":0.615,"d":0.070},{"w":"80%","Q":0.630,"d":0.060},{"w":"80%","Q":0.645,"d":0.070},{"w":"80%","Q":0.660,"d":0.060},{"w":"80%","Q":0.675,"d":0.070},{"w":"80%","Q":0.690,"d":0.055},{"w":"80%","Q":0.705,"d":0.065},{"w":"80%","Q":0.720,"d":0.050},{"w":"80%","Q":0.735,"d":0.060},{"w":"80%","Q":0.750,"d":0.050},{"w":"80%","Q":0.765,"d":0.055},{"w":"80%","Q":0.780,"d":0.045},{"w":"80%","Q":0.795,"d":0.050},{"w":"80%","Q":0.810,"d":0.040},{"w":"80%","Q":0.825,"d":0.045},{"w":"80%","Q":0.840,"d":0.035},{"w":"80%","Q":0.855,"d":0.040},{"w":"80%","Q":0.870,"d":0.030},{"w":"80%","Q":0.885,"d":0.035},{"w":"80%","Q":0.900,"d":0.025},{"w":"80%","Q":0.915,"d":0.030},{"w":"80%","Q":0.930,"d":0.020},{"w":"80%","Q":0.945,"d":0.015},{"w":"80%","Q":0.960,"d":0.020},{"w":"80%","Q":0.975,"d":0.010}
],
"fitB":[
{"w":"0%","Q":0.300,"d":0.080},{"w":"0%","Q":0.350,"d":0.120},{"w":"0%","Q":0.400,"d":0.200},{"w":"0%","Q":0.450,"d":0.320},{"w":"0%","Q":0.500,"d":0.470},{"w":"0%","Q":0.550,"d":0.620},{"w":"0%","Q":0.600,"d":0.750},{"w":"0%","Q":0.650,"d":0.830},{"w":"0%","Q":0.680,"d":0.830},{"w":"0%","Q":0.720,"d":0.760},{"w":"0%","Q":0.760,"d":0.670},{"w":"0%","Q":0.800,"d":0.560},{"w":"0%","Q":0.850,"d":0.420},{"w":"0%","Q":0.900,"d":0.280},{"w":"0%","Q":0.950,"d":0.170},{"w":"0%","Q":1.000,"d":0.100},
{"w":"20%","Q":0.300,"d":0.120},{"w":"20%","Q":0.400,"d":0.170},{"w":"20%","Q":0.450,"d":0.260},{"w":"20%","Q":0.500,"d":0.360},{"w":"20%","Q":0.550,"d":0.450},{"w":"20%","Q":0.600,"d":0.500},{"w":"20%","Q":0.650,"d":0.560},{"w":"20%","Q":0.680,"d":0.570},{"w":"20%","Q":0.720,"d":0.520},{"w":"20%","Q":0.760,"d":0.460},{"w":"20%","Q":0.800,"d":0.390},{"w":"20%","Q":0.850,"d":0.300},{"w":"20%","Q":0.900,"d":0.200},{"w":"20%","Q":0.950,"d":0.120},{"w":"20%","Q":1.000,"d":0.060},
{"w":"50%","Q":0.300,"d":0.120},{"w":"50%","Q":0.400,"d":0.130},{"w":"50%","Q":0.500,"d":0.180},{"w":"50%","Q":0.600,"d":0.230},{"w":"50%","Q":0.700,"d":0.235},{"w":"50%","Q":0.800,"d":0.160},{"w":"50%","Q":0.900,"d":0.090},{"w":"50%","Q":0.950,"d":0.060},{"w":"50%","Q":1.000,"d":0.040},
{"w":"80%","Q":0.300,"d":0.045},{"w":"80%","Q":0.500,"d":0.050},{"w":"80%","Q":0.650,"d":0.060},{"w":"80%","Q":0.800,"d":0.045},{"w":"80%","Q":0.900,"d":0.030},{"w":"80%","Q":1.000,"d":0.015}
]
},
"layer":[
{"data":{"name":"mainA"},"mark":{"type":"point","filled":true,"opacity":1},
 "encoding":{
  "x":{"field":"Q","type":"quantitative","scale":{"type":"log","domain":[0.2,1.6],"range":[115,667],"nice":false},
       "axis":{"orient":"bottom","offset":-694,"values":[0.2,0.3,0.4,0.5,0.6,0.7,0.8,0.9,1],"labels":false,"title":null}},
  "y":{"field":"I","type":"quantitative","scale":{"type":"log","domain":[0.1,1],"range":[564,15],"nice":false},
       "axis":{"orient":"left","offset":-115,"values":[0.1,0.2,0.3,0.4,0.5,0.6,0.7,0.8,0.9,1],"labelExpr":"datum.value==1?'1':datum.value==0.1?'0.1':''","labelFontSize":27,"labelPadding":22,"title":"I(Q)/I","titleFontSize":35,"titleAngle":270,"titleAlign":"left","titleBaseline":"alphabetic","titleX":-58,"titleY":345}},
  "size":{"field":"w","type":"nominal","scale":{"domain":["0%","20%","50%","80%","100%"],"range":[240,280,195,250,240]},"legend":null},
  "color":{"field":"w","type":"nominal","scale":{"domain":["0%","20%","50%","80%","100%"],"range":["#0c0cc8","#c8ee3c","#ff8c2a","#ff1010","#6e0000"]},
       "legend":{"title":null,"orient":"none","legendX":508,"legendY":313,"padding":11.5,"strokeColor":"#222","symbolSize":210,"symbolOffset":8,"labelOffset":17,"labelFontSize":30,"labelFont":"Liberation Sans","rowPadding":14,"symbolStrokeWidth":0,"labelLimit":300,"labelColor":{"expr":"datum.label=='0%'?'#0c0cc8':datum.label=='20%'?'#c8ee3c':datum.label=='50%'?'#ff8c2a':datum.label=='80%'?'#ff1010':'#6e0000'"}}},
  "shape":{"field":"w","type":"nominal","scale":{"domain":["0%","20%","50%","80%","100%"],"range":["square","triangle-up","circle","diamond","square"]},
       "legend":{"title":null,"orient":"none","legendX":508,"legendY":313,"padding":11.5,"strokeColor":"#222","symbolSize":210,"symbolOffset":8,"labelOffset":17,"labelFontSize":30,"labelFont":"Liberation Sans","rowPadding":14,"symbolStrokeWidth":0,"labelLimit":300,"labelColor":{"expr":"datum.label=='0%'?'#0c0cc8':datum.label=='20%'?'#c8ee3c':datum.label=='50%'?'#ff8c2a':datum.label=='80%'?'#ff1010':'#6e0000'"}}}
 }},
{"data":{"values":[{}]},"mark":{"type":"text","fontSize":37,"align":"left","baseline":"alphabetic"},
 "encoding":{
  "x":{"datum":0.348,"type":"quantitative","scale":{"type":"log","domain":[0.2,1.6],"range":[115,667],"nice":false},
       "axis":{"orient":"top","offset":-15,"values":[0.2,0.3,0.4,0.5,0.6,0.7,0.8,0.9,1],"labels":false,"title":null}},
  "y":{"datum":0.1193,"type":"quantitative","scale":{"type":"log","domain":[0.1,1],"range":[564,15],"nice":false},
       "axis":{"orient":"right","offset":-4,"values":[0.1,0.2,0.3,0.4,0.5,0.6,0.7,0.8,0.9,1],"labels":false,"title":null}},
  "text":{"value":"(a) hSBR/dPS"}}},
{"data":{"values":[{}]},"mark":{"type":"text","fontSize":32,"align":"center","baseline":"alphabetic"},
 "encoding":{
  "x":{"datum":1.0617,"type":"quantitative","scale":{"type":"log","domain":[0.2,1.6],"range":[115,667],"nice":false},"axis":null},
  "y":{"datum":0.3155,"type":"quantitative","scale":{"type":"log","domain":[0.1,1],"range":[564,15],"nice":false},"axis":null},
  "text":{"value":"w"}}},
{"data":{"values":[{}]},"mark":{"type":"text","fontSize":23,"align":"left","baseline":"alphabetic"},
 "encoding":{
  "x":{"datum":1.0988,"type":"quantitative","scale":{"type":"log","domain":[0.2,1.6],"range":[115,667],"nice":false},"axis":null},
  "y":{"datum":0.2988,"type":"quantitative","scale":{"type":"log","domain":[0.1,1],"range":[564,15],"nice":false},"axis":null},
  "text":{"value":"SBR"}}},
{"data":{"values":[{}]},"mark":{"type":"text","fontSize":30,"align":"left","baseline":"alphabetic"},
 "encoding":{
  "x":{"datum":1.3213,"type":"quantitative","scale":{"type":"log","domain":[0.2,1.6],"range":[115,667],"nice":false},"axis":null},
  "y":{"datum":0.3155,"type":"quantitative","scale":{"type":"log","domain":[0.1,1],"range":[564,15],"nice":false},"axis":null},
  "text":{"value":":"}}},
{"data":{"values":[{}]},"mark":{"type":"text","fontSize":25,"align":"left","baseline":"alphabetic","angle":270},
 "encoding":{
  "x":{"datum":0.1713,"type":"quantitative","scale":{"type":"log","domain":[0.2,1.6],"range":[115,667],"nice":false},"axis":null},
  "y":{"datum":0.3534,"type":"quantitative","scale":{"type":"log","domain":[0.1,1],"range":[564,15],"nice":false},"axis":null},
  "text":{"value":"max"}}},
{"data":{"name":"insA"},"mark":{"type":"point","filled":true,"opacity":1},
 "encoding":{
  "x":{"field":"Q","type":"quantitative","scale":{"type":"linear","domain":[0.3,1],"range":[156,368],"nice":false,"zero":false},
       "axis":{"orient":"bottom","offset":-1028,"values":[0.3,0.35,0.4,0.45,0.5,0.55,0.6,0.65,0.7,0.75,0.8,0.85,0.9,0.95,1],"labelExpr":"datum.value==0.5?'0.5':datum.value==1?'1':''","labelFontSize":16,"labelBaseline":"alphabetic","labelPadding":23,"tickSize":-3,"tickColor":"#777","domainColor":"#777","domainWidth":1,"title":"Q(Å⁻¹)","titleFontSize":17,"titleX":288,"titleY":30,"titleAlign":"center","titleBaseline":"alphabetic"}},
  "y":{"field":"d","type":"quantitative","scale":{"type":"linear","domain":[0,1],"range":[230,22],"nice":false,"zero":false},
       "axis":{"orient":"left","offset":-156,"ticks":false,"labels":false,"domainColor":"#777","domainWidth":1,"title":"ΔI","titleFontSize":18,"titleAngle":270,"titleAlign":"center","titleBaseline":"alphabetic","titleX":-2,"titleY":120}},
  "size":{"field":"w","type":"nominal","scale":{"domain":["0%","20%","50%","80%"],"range":[135,150,115,135]},"legend":null},
  "color":{"field":"w","type":"nominal","scale":{"domain":["0%","20%","50%","80%"],"range":["#0c0cc8","#22ee22","#ff8c2a","#ff1010"]},"legend":null},
  "shape":{"field":"w","type":"nominal","scale":{"domain":["0%","20%","50%","80%"],"range":["square","triangle-up","circle","diamond"]},"legend":null}
 }},
{"data":{"name":"fitA"},"mark":{"type":"line","strokeWidth":1,"interpolate":"monotone"},
 "encoding":{
  "x":{"field":"Q","type":"quantitative","scale":{"type":"linear","domain":[0.3,1],"range":[156,368],"nice":false,"zero":false},
       "axis":{"orient":"top","offset":-22,"values":[0.3,0.35,0.4,0.45,0.5,0.55,0.6,0.65,0.7,0.75,0.8,0.85,0.9,0.95,1],"labels":false,"tickSize":-3,"tickColor":"#777","domainColor":"#777","domainWidth":1,"title":null}},
  "y":{"field":"d","type":"quantitative","scale":{"type":"linear","domain":[0,1],"range":[230,22],"nice":false,"zero":false},
       "axis":{"orient":"right","offset":-303,"ticks":false,"labels":false,"domainColor":"#777","domainWidth":1,"title":null}},
  "color":{"field":"w","type":"nominal","scale":{"domain":["0%","20%","50%","80%"],"range":["#0c0cc8","#22ee22","#ff8c2a","#ff1010"]},"legend":null},
  "strokeDash":{"field":"w","type":"nominal","scale":{"domain":["0%","20%","50%","80%"],"range":[[1,0],[1,0],[4,3],[4,3]]},"legend":null}
 }},
{"data":{"name":"mainB"},"mark":{"type":"point","filled":true,"opacity":1},
 "encoding":{
  "x":{"field":"Q","type":"quantitative","scale":{"type":"log","domain":[0.2,1.6],"range":[104,667],"nice":false},
       "axis":{"orient":"bottom","offset":-102,"values":[0.2,0.3,0.4,0.5,0.6,0.7,0.8,0.9,1],"labelExpr":"datum.value==0.2?'0.2':datum.value==0.4?'0.4':datum.value==0.6?'0.6':datum.value==0.8?'0.8':datum.value==1?'1':''","labelFontSize":29,"labelBaseline":"alphabetic","labelPadding":39,"title":"Q(A⁻¹)","titleFontSize":36,"titleX":385,"titleY":89,"titleAlign":"center","titleBaseline":"alphabetic"}},
  "y":{"field":"I","type":"quantitative","scale":{"type":"log","domain":[0.1,1],"range":[1156,594],"nice":false},
       "axis":{"orient":"left","offset":-104,"values":[0.1,0.2,0.3,0.4,0.5,0.6,0.7,0.8,0.9,1],"labelExpr":"datum.value==1?'1':datum.value==0.1?'0.1':''","labelFontSize":27,"labelPadding":22,"title":"I(Q)/I","titleFontSize":35,"titleAngle":270,"titleAlign":"left","titleBaseline":"alphabetic","titleX":-59,"titleY":930}},
  "size":{"field":"w","type":"nominal","scale":{"domain":["0%","20%","50%","80%","100%"],"range":[240,280,195,250,240]},"legend":null},
  "color":{"field":"w","type":"nominal","scale":{"domain":["0%","20%","50%","80%","100%"],"range":["#0000c8","#2b6ff5","#12aadf","#46e6f8","#6e0000"]},
       "legend":{"title":null,"orient":"none","legendX":507,"legendY":885,"padding":16,"strokeColor":"#222","symbolSize":210,"symbolOffset":2.5,"labelOffset":17,"labelFontSize":30,"labelFont":"Liberation Sans","rowPadding":16,"symbolStrokeWidth":0,"labelLimit":300,"labelColor":{"expr":"datum.label=='0%'?'#0000c8':datum.label=='20%'?'#2b6ff5':datum.label=='50%'?'#12aadf':datum.label=='80%'?'#46e6f8':'#6e0000'"}}},
  "shape":{"field":"w","type":"nominal","scale":{"domain":["0%","20%","50%","80%","100%"],"range":["square","triangle-up","circle","diamond","square"]},
       "legend":{"title":null,"orient":"none","legendX":507,"legendY":885,"padding":16,"strokeColor":"#222","symbolSize":210,"symbolOffset":2.5,"labelOffset":17,"labelFontSize":30,"labelFont":"Liberation Sans","rowPadding":16,"symbolStrokeWidth":0,"labelLimit":300,"labelColor":{"expr":"datum.label=='0%'?'#0000c8':datum.label=='20%'?'#2b6ff5':datum.label=='50%'?'#12aadf':datum.label=='80%'?'#46e6f8':'#6e0000'"}}}
 }},
{"data":{"values":[{}]},"mark":{"type":"text","fontSize":37,"align":"left","baseline":"alphabetic"},
 "encoding":{
  "x":{"datum":0.316,"type":"quantitative","scale":{"type":"log","domain":[0.2,1.6],"range":[104,667],"nice":false},
       "axis":{"orient":"top","offset":-594,"values":[0.2,0.3,0.4,0.5,0.6,0.7,0.8,0.9,1],"labels":false,"title":null}},
  "y":{"datum":0.1145,"type":"quantitative","scale":{"type":"log","domain":[0.1,1],"range":[1156,594],"nice":false},
       "axis":{"orient":"right","offset":-4,"values":[0.1,0.2,0.3,0.4,0.5,0.6,0.7,0.8,0.9,1],"labels":false,"title":null}},
  "text":{"value":"(b) dSBR/hPS"}}},
{"data":{"values":[{}]},"mark":{"type":"text","fontSize":32,"align":"center","baseline":"alphabetic"},
 "encoding":{
  "x":{"datum":1.088,"type":"quantitative","scale":{"type":"log","domain":[0.2,1.6],"range":[104,667],"nice":false},"axis":null},
  "y":{"datum":0.346,"type":"quantitative","scale":{"type":"log","domain":[0.1,1],"range":[1156,594],"nice":false},"axis":null},
  "text":{"value":"w"}}},
{"data":{"values":[{}]},"mark":{"type":"text","fontSize":23,"align":"left","baseline":"alphabetic"},
 "encoding":{
  "x":{"datum":1.1247,"type":"quantitative","scale":{"type":"log","domain":[0.2,1.6],"range":[104,667],"nice":false},"axis":null},
  "y":{"datum":0.3254,"type":"quantitative","scale":{"type":"log","domain":[0.1,1],"range":[1156,594],"nice":false},"axis":null},
  "text":{"value":"SBR"}}},
{"data":{"values":[{}]},"mark":{"type":"text","fontSize":30,"align":"left","baseline":"alphabetic"},
 "encoding":{
  "x":{"datum":1.3476,"type":"quantitative","scale":{"type":"log","domain":[0.2,1.6],"range":[104,667],"nice":false},"axis":null},
  "y":{"datum":0.346,"type":"quantitative","scale":{"type":"log","domain":[0.1,1],"range":[1156,594],"nice":false},"axis":null},
  "text":{"value":":"}}},
{"data":{"values":[{}]},"mark":{"type":"text","fontSize":25,"align":"left","baseline":"alphabetic","angle":270},
 "encoding":{
  "x":{"datum":0.1712,"type":"quantitative","scale":{"type":"log","domain":[0.2,1.6],"range":[104,667],"nice":false},"axis":null},
  "y":{"datum":0.3532,"type":"quantitative","scale":{"type":"log","domain":[0.1,1],"range":[1156,594],"nice":false},"axis":null},
  "text":{"value":"max"}}},
{"data":{"name":"insB"},"mark":{"type":"point","filled":true,"opacity":1},
 "encoding":{
  "x":{"field":"Q","type":"quantitative","scale":{"type":"linear","domain":[0.3,1],"range":[137,351],"nice":false,"zero":false},
       "axis":{"orient":"bottom","offset":-436,"values":[0.3,0.35,0.4,0.45,0.5,0.55,0.6,0.65,0.7,0.75,0.8,0.85,0.9,0.95,1],"labelExpr":"datum.value==0.5?'0.5':datum.value==1?'1':''","labelFontSize":16,"labelBaseline":"alphabetic","labelPadding":24,"tickSize":-3,"tickColor":"#777","domainColor":"#777","domainWidth":1,"title":"Q(Å⁻¹)","titleFontSize":17,"titleX":272,"titleY":30,"titleAlign":"center","titleBaseline":"alphabetic"}},
  "y":{"field":"d","type":"quantitative","scale":{"type":"linear","domain":[0,1],"range":[822,610],"nice":false,"zero":false},
       "axis":{"orient":"left","offset":-137,"ticks":false,"labels":false,"domainColor":"#777","domainWidth":1,"title":"ΔI","titleFontSize":18,"titleAngle":270,"titleAlign":"center","titleBaseline":"alphabetic","titleX":-2,"titleY":716}},
  "size":{"field":"w","type":"nominal","scale":{"domain":["0%","20%","50%","80%"],"range":[135,150,115,135]},"legend":null},
  "color":{"field":"w","type":"nominal","scale":{"domain":["0%","20%","50%","80%"],"range":["#0000c8","#2b6ff5","#12aadf","#46e6f8"]},"legend":null},
  "shape":{"field":"w","type":"nominal","scale":{"domain":["0%","20%","50%","80%"],"range":["square","triangle-up","circle","diamond"]},"legend":null}
 }},
{"data":{"name":"fitB"},"mark":{"type":"line","strokeWidth":1,"interpolate":"monotone"},
 "encoding":{
  "x":{"field":"Q","type":"quantitative","scale":{"type":"linear","domain":[0.3,1],"range":[137,351],"nice":false,"zero":false},
       "axis":{"orient":"top","offset":-610,"values":[0.3,0.35,0.4,0.45,0.5,0.55,0.6,0.65,0.7,0.75,0.8,0.85,0.9,0.95,1],"labels":false,"tickSize":-3,"tickColor":"#777","domainColor":"#777","domainWidth":1,"title":null}},
  "y":{"field":"d","type":"quantitative","scale":{"type":"linear","domain":[0,1],"range":[822,610],"nice":false,"zero":false},
       "axis":{"orient":"right","offset":-320,"ticks":false,"labels":false,"domainColor":"#777","domainWidth":1,"title":null}},
  "color":{"field":"w","type":"nominal","scale":{"domain":["0%","20%","50%","80%"],"range":["#0000c8","#2b6ff5","#12aadf","#46e6f8"]},"legend":null}
 }}
],
"resolve":{"scale":{"x":"independent","y":"independent","color":"independent","shape":"independent","size":"independent","strokeDash":"independent"},"axis":{"x":"independent","y":"independent"},"legend":{"color":"independent","shape":"independent","size":"independent"}}
}
